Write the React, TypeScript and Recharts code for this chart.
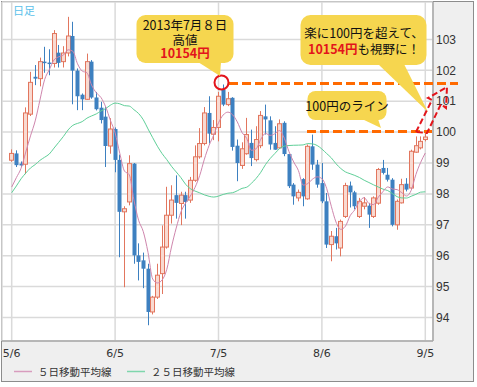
import { Bar, CartesianGrid, ComposedChart, Line, XAxis, YAxis } from 'recharts';

// trading days 2013/5/6 - 9/5
const dates = [
    '5/6', '5/7', '5/8', '5/9', '5/10', '5/13', '5/14', '5/15', '5/16', '5/17',
    '5/20', '5/21', '5/22', '5/23', '5/24', '5/27', '5/28', '5/29', '5/30', '5/31',
    '6/3', '6/4', '6/5', '6/6', '6/7', '6/10', '6/11', '6/12', '6/13', '6/14',
    '6/17', '6/18', '6/19', '6/20', '6/21', '6/24', '6/25', '6/26', '6/27', '6/28',
    '7/1', '7/2', '7/3', '7/4', '7/5', '7/8', '7/9', '7/10', '7/11', '7/12',
    '7/15', '7/16', '7/17', '7/18', '7/19', '7/22', '7/23', '7/24', '7/25', '7/26',
    '7/29', '7/30', '7/31', '8/1', '8/2', '8/5', '8/6', '8/7', '8/8', '8/9',
    '8/12', '8/13', '8/14', '8/15', '8/16', '8/19', '8/20', '8/21', '8/22', '8/23',
    '8/26', '8/27', '8/28', '8/29', '8/30', '9/2', '9/3', '9/4', '9/5',
];

const opens = [
    99.09, 99.31, 98.98, 98.96, 100.58, 101.79, 101.73, 102.28, 102.25, 102.22,
    102.57, 102.28, 102.56, 103.11, 101.99, 101.21, 101.06, 102.28, 101.12, 100.79,
    100.5, 99.55, 100.1, 99.1, 97.42, 97.74, 98.98, 96.01, 95.85, 95.58,
    94.18, 94.66, 95.42, 96.28, 97.31, 97.96, 97.69, 97.96, 97.8, 98.44,
    99.2, 99.63, 100.62, 99.93, 100.15, 101.38, 100.89, 101.11, 99.56, 98.92,
    99.3, 99.65, 99.11, 99.56, 100.51, 100.38, 99.65, 99.49, 100.3, 99.29,
    98.3, 97.87, 98.48, 97.84, 99.54, 98.95, 98.35, 97.76, 96.36, 96.63,
    96.25, 97.27, 98.27, 98.05, 97.27, 97.6, 97.62, 97.27, 97.7, 98.84,
    98.62, 98.46, 97.0, 97.71, 98.33, 98.19, 99.35, 99.49, 99.76,
];
const highs = [
    99.44, 99.41, 99.05, 100.8, 101.95, 102.17, 102.41, 102.76, 102.68, 103.3,
    102.82, 102.78, 103.73, 103.57, 102.06, 101.25, 102.54, 102.33, 101.3, 100.98,
    100.82, 100.45, 100.15, 99.27, 97.6, 99.25, 99.0, 96.4, 96.1, 95.74,
    94.7, 95.74, 96.98, 98.23, 98.28, 98.6, 98.07, 98.07, 98.55, 99.57,
    100.13, 100.81, 101.16, 100.39, 101.3, 101.54, 101.3, 101.13, 99.76, 99.67,
    100.46, 100.08, 100.19, 100.68, 100.89, 100.51, 100.19, 100.41, 100.35, 99.29,
    98.35, 98.14, 98.51, 99.6, 99.92, 99.1, 99.0, 98.03, 96.8, 96.9,
    97.17, 98.36, 98.4, 98.1, 97.87, 97.9, 97.71, 97.92, 98.84, 99.1,
    98.84, 98.51, 97.82, 98.49, 98.51, 99.43, 99.86, 99.86, 100.0,
];
const lows = [
    99.04, 98.87, 98.87, 98.64, 100.52, 101.52, 101.48, 101.92, 101.84, 102.09,
    102.09, 102.09, 102.45, 100.9, 100.71, 100.71, 101.04, 101.08, 100.7, 100.28,
    98.87, 99.3, 98.7, 95.95, 94.98, 97.63, 95.74, 95.2, 94.95, 93.75,
    94.1, 94.6, 94.76, 96.23, 97.04, 97.2, 96.99, 97.2, 97.71, 98.39,
    99.14, 99.57, 99.63, 99.74, 99.7, 100.84, 100.84, 99.4, 98.41, 98.81,
    99.27, 98.9, 99.05, 99.48, 99.92, 99.43, 99.43, 99.46, 99.22, 98.19,
    97.65, 97.76, 97.6, 97.81, 98.78, 98.2, 97.7, 96.25, 95.82, 96.2,
    95.98, 97.22, 97.56, 97.5, 97.22, 97.5, 96.9, 97.22, 97.65, 98.63,
    98.4, 96.95, 96.84, 97.69, 98.08, 98.13, 99.33, 99.44, 99.7,
];
const closes = [
    99.31, 98.93, 98.92, 100.62, 101.61, 101.73, 102.28, 102.25, 102.22, 103.19,
    102.24, 102.56, 103.11, 101.99, 101.16, 101.06, 102.28, 101.12, 100.74, 100.39,
    99.55, 100.1, 99.1, 97.42, 97.52, 98.98, 96.01, 95.8, 95.58, 94.18,
    94.66, 95.37, 96.28, 97.31, 97.8, 97.71, 97.96, 97.74, 98.44, 99.2,
    99.63, 100.62, 99.95, 100.15, 101.16, 100.89, 101.08, 99.52, 99.0, 99.46,
    99.92, 99.16, 99.76, 100.54, 100.41, 99.6, 99.43, 100.27, 99.29, 98.25,
    97.92, 98.05, 97.92, 99.54, 98.95, 98.3, 97.76, 96.36, 96.63, 96.4,
    97.11, 98.27, 98.05, 97.6, 97.76, 97.71, 97.33, 97.87, 98.79, 98.68,
    98.46, 97.0, 97.76, 98.3, 98.14, 99.38, 99.56, 99.7, 99.84,
];
// closes 4/2 - 5/3, needed for the moving averages at the start
const priorCloses = [
    93.4, 93.1, 96.0, 97.5, 99.0, 98.9, 99.7, 99.6, 98.4, 97.6, 97.8, 97.8,
    98.3, 99.6, 99.6, 99.5, 99.3, 99.1, 98.0, 97.6, 97.4, 97.4, 98.0, 99.0,
];

const yTicks = [94, 95, 96, 97, 98, 99, 100, 101, 102, 103];
const xTicks = ['5/6', '6/5', '7/5', '8/6', '9/5'];

const allCloses = [...priorCloses, ...closes];
const movingAvg = (n: number, i: number) => {
    const k = priorCloses.length + i;
    let s = 0;
    for (let j = k - n + 1; j <= k; j++) s += allCloses[j];
    return s / n;
};

const data = dates.map((date, i) => ({
    date,
    open: opens[i],
    high: highs[i],
    low: lows[i],
    close: closes[i],
    range: [lows[i], highs[i]],
    ma5: movingAvg(5, i),
    ma25: movingAvg(25, i),
}));

const UP = '#e2765e';
const DOWN = '#3d80c0';

const Candle = (props: any) => {
    const { x, y, width, height, payload } = props;
    if (!payload) return null;
    const { open, close, high, low } = payload;
    const top = Math.min(y, y + height);
    const h = Math.abs(height);
    const px = (v: number) => (high === low ? top : top + ((high - v) / (high - low)) * h);
    const cx = Math.round(x + width / 2) + 0.5;
    const up = close >= open;
    const bTop = px(Math.max(open, close));
    const bBot = px(Math.min(open, close));
    const color = up ? UP : DOWN;
    return (
        <g>
            <line x1={cx} x2={cx} y1={top} y2={top + h} stroke={color} strokeWidth={1} />
            {up ? (
                <rect x={cx - 2} y={bTop} width={4} height={Math.max(bBot - bTop, 1)} fill="#f9dad1" stroke={color} strokeWidth={1} />
            ) : (
                <rect x={cx - 2} y={bTop} width={4} height={Math.max(bBot - bTop, 1.5)} fill={color} />
            )}
        </g>
    );
};

const JP = '"Noto Sans CJK JP", sans-serif';
const YELLOW = '#f6d64f';
const RED = '#e3141b';
const ORANGE = '#ff6a00';

const Overlay = () => (
    <svg width={477} height={387} style={{ position: 'absolute', left: 0, top: 0, pointerEvents: 'none' }}>
        <text x={13} y={15} fontSize={11} fill="#5bbfea" fontFamily={JP}>日足</text>

        {/* high line and 100 yen line */}
        <line x1={229} y1={83.5} x2={458} y2={83.5} stroke={ORANGE} strokeWidth={3} strokeDasharray="9 4" />
        <line x1={307} y1={131.5} x2={432} y2={131.5} stroke={ORANGE} strokeWidth={3} strokeDasharray="9 4" />
        <circle cx={221.5} cy={82.5} r={7} fill="none" stroke={RED} strokeWidth={2} />

        {/* callout 1 */}
        <rect x={136.5} y={15} width={97} height={48} rx={9} fill={YELLOW} />
        <polygon points="198,62 221,62 220,76" fill={YELLOW} />
        <text x={185} y={29.5} fontSize={12.5} fontFamily={JP} textAnchor="middle" fill="#111">2013年7月８日</text>
        <text x={185} y={44.5} fontSize={12.5} fontFamily={JP} textAnchor="middle" fill="#111">高値</text>
        <text x={185} y={58} fontSize={12.5} fontFamily={JP} textAnchor="middle" fill={RED} fontWeight="bold">10154円</text>

        {/* callout 2 */}
        <rect x={300.5} y={15} width={126} height={50} rx={10} fill={YELLOW} />
        <polygon points="378,64 404,64 428,112" fill={YELLOW} />
        <text x={364} y={38} fontSize={12.5} fontFamily={JP} textAnchor="middle" fill="#111">楽に100円を超えて、</text>
        <text x={364} y={53.5} fontSize={12.5} fontFamily={JP} textAnchor="middle" fill="#111">
            <tspan fill={RED} fontWeight="bold">10154円</tspan>
            <tspan>も視野に！</tspan>
        </text>

        {/* callout 3 */}
        <rect x={307.5} y={91} width={79} height={29} rx={8} fill={YELLOW} />
        <polygon points="362,119 378,119 381,128" fill={YELLOW} />
        <text x={347} y={110.5} fontSize={12.5} fontFamily={JP} textAnchor="middle" fill="#111">100円のライン</text>

        {/* dashed arrow */}
        <polygon
            points="416,132 432,100 428,98 447,87 446,108 441,104 427,133"
            fill="none"
            stroke={RED}
            strokeWidth={2}
            strokeDasharray="6 3"
        />

        {/* legend */}
        <line x1={14} y1={371.5} x2={32} y2={371.5} stroke="#d89cbe" strokeWidth={1.5} />
        <text x={38} y={376} fontSize={10.5} fontFamily={JP} fill="#333">５日移動平均線</text>
        <line x1={127} y1={371.5} x2={145} y2={371.5} stroke="#7fd6ac" strokeWidth={1.5} />
        <text x={151} y={376} fontSize={10.5} fontFamily={JP} fill="#333">２５日移動平均線</text>
    </svg>
);

export default function App() {
    return (
        <div style={{ position: 'absolute', left: 0, top: 0, width: 477, height: 387 }}>
            <div
                style={{
                    position: 'absolute',
                    left: 1,
                    top: 1,
                    width: 473,
                    height: 381,
                    boxSizing: 'border-box',
                    border: '1px solid #8c8c8c',
                    background: '#efefef',
                }}
            />
            <div style={{ position: 'absolute', left: 0, top: 0 }}>
                <ComposedChart width={477} height={387} data={data} margin={{ top: 2, right: 0, bottom: 0, left: 2 }} barSize={4}>
                    <CartesianGrid stroke="#dadada" strokeWidth={1.5} fill="#fff" fillOpacity={1} />
                    <XAxis
                        dataKey="date"
                        ticks={xTicks}
                        interval={0}
                        height={46}
                        padding={{ left: 7.35, right: 5.35 }}
                        tickLine={false}
                        tickSize={0}
                        tickMargin={8}
                        axisLine={{ stroke: '#a8a8a8', strokeWidth: 1.5 }}
                        tick={{ fontSize: 11, fill: '#333', fontFamily: '"DejaVu Sans", sans-serif' }}
                    />
                    <YAxis
                        orientation="right"
                        type="number"
                        domain={[93.24, 104.21]}
                        ticks={yTicks}
                        allowDataOverflow
                        width={44}
                        tickLine={false}
                        tickSize={0}
                        tickMargin={3}
                        axisLine={{ stroke: '#a8a8a8', strokeWidth: 1.5 }}
                        tick={{ fontSize: 12, fill: '#333', fontFamily: '"Liberation Sans", Arial, sans-serif', textAnchor: 'start' }}
                    />
                    <Bar dataKey="range" shape={Candle} isAnimationActive={false} />
                    <Line type="monotone" dataKey="ma25" stroke="#5fcf98" strokeWidth={1} dot={false} isAnimationActive={false} />
                    <Line type="monotone" dataKey="ma5" stroke="#cf86ad" strokeWidth={1} dot={false} isAnimationActive={false} />
                </ComposedChart>
            </div>
            <Overlay />
        </div>
    );
}
